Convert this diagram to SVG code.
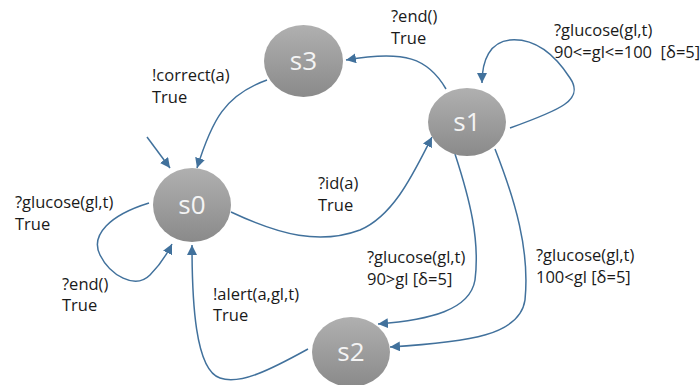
<svg xmlns="http://www.w3.org/2000/svg" width="700" height="385" viewBox="0 0 700 385">
<defs>
<linearGradient id="g" x1="0" y1="0" x2="0" y2="1">
<stop offset="0" stop-color="#b0b0b0"/>
<stop offset="1" stop-color="#8a8a8a"/>
</linearGradient>
<marker id="ah" viewBox="0 0 10 10" refX="10" refY="5" markerWidth="10" markerHeight="10" markerUnits="userSpaceOnUse" orient="auto">
<path d="M0,0 L10,5 L0,10 Z" fill="#41719c"/>
</marker>
<style>
.n{fill:url(#g);}
.nt{font-family:"Open Sans","Liberation Sans",Arial,sans-serif;font-size:26px;fill:#f4f4f4;text-anchor:middle;}
.l{font-family:"Open Sans","Liberation Sans",Arial,sans-serif;font-size:16.5px;fill:#1a1a1a;white-space:pre;}
.c{fill:none;stroke:#41719c;stroke-width:1.5;marker-end:url(#ah);}
</style>
</defs>
<rect width="700" height="385" fill="#ffffff"/>
<g id="connectors">
<path class="c" d="M147,137 L170,168"/>
<path class="c" d="M267,80 C225,95 212,120 197,168"/>
<path class="c" d="M446,89 C428,58 405,50 346,60"/>
<path class="c" d="M510,128 C560,110 585,100 570,78 C555,55 535,38 510,40 C490,42 482,60 482,83"/>
<path class="c" d="M231,212 C280,235 320,245 360,230 C395,215 415,170 432,137"/>
<path class="c" d="M149,203 C110,215 90,235 100,255 C110,275 135,290 150,275 C160,265 166,256 172,244"/>
<path class="c" d="M308,349 C270,370 240,385 220,378 C195,370 192,300 192,245"/>
<path class="c" d="M455,154 C470,200 480,240 475,280 C470,310 430,320 378,324"/>
<path class="c" d="M495,149 C515,200 530,250 525,300 C520,335 470,342 390,347"/>
</g>
<g id="s3"><ellipse class="n" cx="303.5" cy="61" rx="39.5" ry="36"/><text class="nt" x="303.5" y="70">s3</text></g>
<g id="s1"><ellipse class="n" cx="467" cy="122" rx="39" ry="34"/><text class="nt" x="467" y="131">s1</text></g>
<g id="s0"><ellipse class="n" cx="192" cy="205" rx="39" ry="37"/><text class="nt" x="192" y="214">s0</text></g>
<g id="s2"><ellipse class="n" cx="351" cy="352" rx="39" ry="35"/><text class="nt" x="351" y="361">s2</text></g>
<g id="labels">
<text class="l" x="152" y="81">!correct(a)</text>
<text class="l" x="152" y="103">True</text>
<text class="l" x="391" y="22">?end()</text>
<text class="l" x="391" y="44">True</text>
<text class="l" x="554" y="36">?glucose(gl,t)</text>
<text class="l" x="554" y="58" xml:space="preserve">90&lt;=gl&lt;=100  [δ=5]</text>
<text class="l" x="318" y="189">?id(a)</text>
<text class="l" x="318" y="211">True</text>
<text class="l" x="15" y="208">?glucose(gl,t)</text>
<text class="l" x="15" y="230">True</text>
<text class="l" x="62" y="290">?end()</text>
<text class="l" x="62" y="311">True</text>
<text class="l" x="213" y="300">!alert(a,gl,t)</text>
<text class="l" x="213" y="321">True</text>
<text class="l" x="367" y="263">?glucose(gl,t)</text>
<text class="l" x="367" y="285">90&gt;gl [δ=5]</text>
<text class="l" x="536" y="261">?glucose(gl,t)</text>
<text class="l" x="536" y="283">100&lt;gl [δ=5]</text>
</g>
</svg>
